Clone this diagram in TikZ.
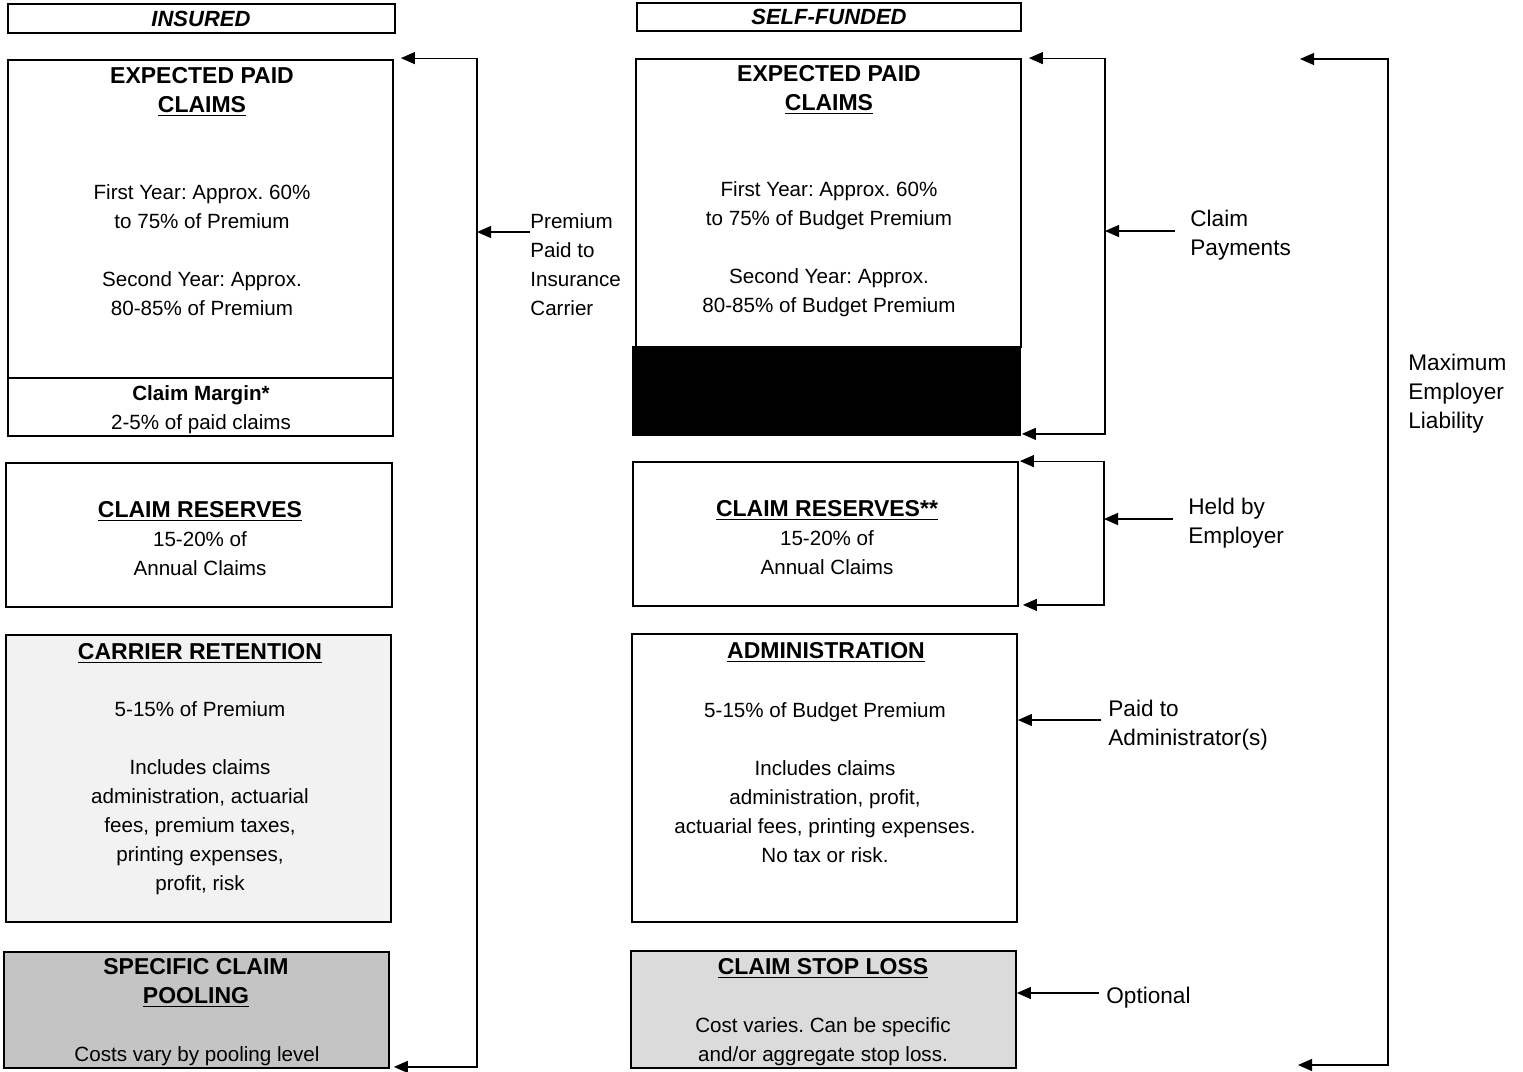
\documentclass[tikz,border=0pt]{standalone}
\usepackage{fontspec}
\setmainfont{Liberation Sans}
\usetikzlibrary{arrows.meta, fit, positioning}
\definecolor{lightdots}{rgb}{0.95, 0.95, 0.95}
\definecolor{middots}{rgb}{0.86, 0.86, 0.86}
\definecolor{darkdots}{rgb}{0.77, 0.77, 0.77}
\newcommand{\bodyfont}{\fontsize{10.3}{14.5}\selectfont}
\newcommand{\headfont}{\fontsize{11.5}{14.5}\selectfont\bfseries}
\newcommand{\sidefont}{\fontsize{11.3}{14.5}\selectfont}
\frenchspacing

\begin{document}
\begin{tikzpicture}[x=0.5pt, y=-0.5pt,
		box/.style={draw, line width=0.9pt, inner sep=0pt},
		body/.style={align=center, inner sep=0pt, yshift=-1.25pt, font=\bodyfont},
		title/.style={align=center, inner sep=0pt, yshift=-1.25pt, font=\headfont},
		side/.style={align=left, inner sep=0pt, anchor=west, yshift=-1.25pt, font=\sidefont},
		link/.style={line width=0.6pt, >={Triangle[length=7pt, width=6pt]}}]
		\useasboundingbox (0,0) rectangle (1523,1072);
		
		% headers
		\node[box, fit={(8,4) (395,33)}] (ins) {};
		\node[box, fit={(637,3) (1021,31)}] (sf) {};
		\node[font=\fontsize{11}{13}\selectfont\bfseries\itshape, inner sep=0pt] (ins_t) at (201,19) {INSURED};
		\node[font=\fontsize{11}{13}\selectfont\bfseries\itshape, inner sep=0pt] (sf_t) at (829,17) {SELF-FUNDED};
		
		% insured column
		\node[box, fit={(8,60) (393,378)}] (exp_l) {};
		\node[box, fit={(8,378) (393,436)}] (margin_l) {};
		\node[box, fit={(6,463) (392,607)}] (res_l) {};
		\node[box, fill=lightdots, fit={(6,635) (391,922)}] (ret_l) {};
		\node[box, fill=darkdots, fit={(4,952) (389,1068)}] (pool_l) {};
		
		\node[title] (exp_l_t) at (202,89.5) {EXPECTED PAID\\\underline{CLAIMS}};
		\node[body] (exp_l_b) at (202,248) {First Year: Approx. 60\%\\to 75\% of Premium\\[14.5pt]Second Year: Approx.\\80-85\% of Premium};
		\node[body] (margin_l_t) at (201,407) {\textbf{Claim Margin*}\\2-5\% of paid claims};
		\node[body] (res_l_t) at (200,536) {{\headfont\underline{CLAIM RESERVES}}\\15-20\% of\\Annual Claims};
		\node[title] (ret_l_t) at (200,651) {\underline{CARRIER RETENTION}};
		\node[body] (ret_l_b) at (200,795.5) {5-15\% of Premium\\[14.5pt]Includes claims\\administration, actuarial\\fees, premium taxes,\\printing expenses,\\profit, risk};
		\node[title] (pool_l_t) at (196,980.5) {SPECIFIC CLAIM\\\underline{POOLING}};
		\node[body] (pool_l_b) at (197,1054) {Costs vary by pooling level};
		
		% self-funded column
		\node[box, fit={(636,59) (1021,347)}] (exp_r) {};
		\node[box, fill=black, fit={(633,347) (1020,435)}] (black_r) {};
		\node[box, fit={(633,462) (1018,606)}] (res_r) {};
		\node[box, fit={(632,634) (1017,922)}] (adm) {};
		\node[box, fill=middots, fit={(631,951) (1016,1068)}] (stop) {};
		
		\node[title] (exp_r_t) at (829,87.5) {EXPECTED PAID\\\underline{CLAIMS}};
		\node[body] (exp_r_b) at (829,247) {First Year: Approx. 60\%\\to 75\% of Budget Premium\\[14.5pt]Second Year: Approx.\\80-85\% of Budget Premium};
		\node[body] (res_r_t) at (827,535) {{\headfont\underline{CLAIM RESERVES**}}\\15-20\% of\\Annual Claims};
		\node[title] (adm_t) at (826,650) {\underline{ADMINISTRATION}};
		\node[body] (adm_b) at (825,780) {5-15\% of Budget Premium\\[14.5pt]Includes claims\\administration, profit,\\actuarial fees, printing expenses.\\No tax or risk.};
		\node[title] (stop_t) at (823,966) {\underline{CLAIM STOP LOSS}};
		\node[body] (stop_b) at (823,1039) {Cost varies. Can be specific\\and/or aggregate stop loss.};
		
		% side labels
		\node[side, font=\bodyfont] (prem) at (530,262.5) {Premium\\Paid to\\Insurance\\Carrier};
		\node[side] (pay) at (1190,232.5) {Claim\\Payments};
		\node[side] (held) at (1188,521) {Held by\\Employer};
		\node[side] (admin) at (1108,722.5) {Paid to\\Administrator(s)};
		\node[side] (opt) at (1106,995) {Optional};
		\node[side] (max) at (1408,391) {Maximum\\Employer\\Liability};
		
		% premium bracket
		\coordinate (premT) at (477,59);
		\coordinate (premIn) at (530,232);
		\coordinate (premA) at ([shift={(7,-1)}]exp_l.north east);
		\coordinate (premZ) at ([shift={(4,-2)}]pool_l.south east);
		\draw[link, <->] (premA) -| (premT |- premZ) -- (premZ);
		\draw[link, ->] (premIn) -- (premIn -| premT);
		
		% claim payments bracket
		\coordinate (payT) at (1105,59);
		\coordinate (payIn) at (1175,231);
		\coordinate (payA) at ([shift={(7,0)}]exp_r.north east);
		\coordinate (payZ) at ([shift={(1,-2)}]black_r.south east);
		\draw[link, <->] (payA) -| (payT |- payZ) -- (payZ);
		\draw[link, ->] (payIn) -- (payIn -| payT);
		
		% held by employer bracket
		\coordinate (heldT) at (1104,462);
		\coordinate (heldIn) at (1173,519);
		\coordinate (heldA) at ([shift={(1,0)}]res_r.north east);
		\coordinate (heldZ) at ([shift={(4,-2)}]res_r.south east);
		\draw[link, <->] (heldA) -| (heldT |- heldZ) -- (heldZ);
		\draw[link, ->] (heldIn) -- (heldIn -| heldT);
		
		% single arrows
		\coordinate (admIn) at (1101,720);
		\coordinate (optIn) at (1099,993);
		\draw[link, ->] (admIn) -- (admIn -| adm.east);
		\draw[link, ->] (optIn) -- (optIn -| stop.east);
		
		% maximum liability bracket
		\coordinate (maxA) at (1300,59);
		\coordinate (maxT) at (1388,59);
		\coordinate (maxZ) at (1298,1065);
		\draw[link, <->] (maxA) -| (maxT |- maxZ) -- (maxZ);
\end{tikzpicture}
\end{document}
